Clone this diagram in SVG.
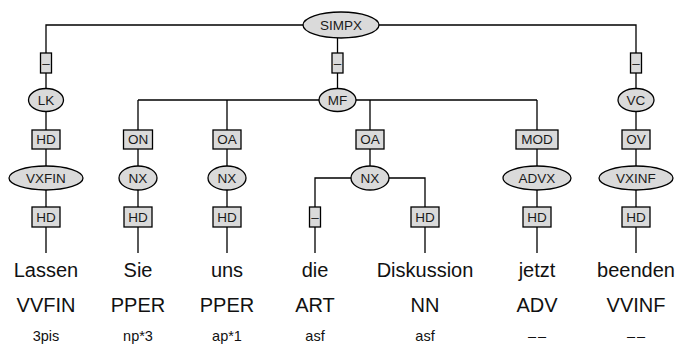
<svg xmlns="http://www.w3.org/2000/svg" width="680" height="349" viewBox="0 0 680 349">
<style>
.e{fill:#dadada;stroke:#000;stroke-width:1.3}
.b{fill:#dadada;stroke:#000;stroke-width:1.3}
.c{fill:none;stroke:#000;stroke-width:1.3}
.n{font-family:"Liberation Sans",Arial,sans-serif;font-size:13.5px;text-anchor:middle;fill:#1a1a1a}
.w{font-family:"Liberation Sans",Arial,sans-serif;font-size:20px;text-anchor:middle;fill:#111}
.m{font-family:"Liberation Sans",Arial,sans-serif;font-size:14.5px;text-anchor:middle;fill:#111}
.d{letter-spacing:2px}
</style>
<rect width="680" height="349" fill="#fff"/>
<g id="connectors" class="c">
<path d="M46 89V25H636V89"/>
<path d="M337.5 38V89"/>
<path d="M46 112V166M636 112V166"/>
<path d="M138 100H537"/>
<path d="M138 100V166M227 100V166M370 100V166M537 100V166"/>
<path d="M46 190V253M138 190V253M227 190V253M537 190V253M636 190V253"/>
<path d="M315 253V178H425V253"/>
</g>
<g id="edge-labels">
<g id="el-simpx-lk"><rect class="b" x="40.5" y="53" width="11" height="20"/><text class="n" x="46" y="67.5">–</text></g>
<g id="el-simpx-mf"><rect class="b" x="332" y="53" width="11" height="20"/><text class="n" x="337.5" y="67.5">–</text></g>
<g id="el-simpx-vc"><rect class="b" x="630.5" y="53" width="11" height="20"/><text class="n" x="636" y="67.5">–</text></g>
<g id="el-lk-vxfin"><rect class="b" x="32" y="130" width="28" height="19"/><text class="n" x="46" y="144.3">HD</text></g>
<g id="el-mf-nx1"><rect class="b" x="123.5" y="130" width="29" height="19"/><text class="n" x="138" y="144.3">ON</text></g>
<g id="el-mf-nx2"><rect class="b" x="213" y="130" width="28" height="19"/><text class="n" x="227" y="144.3">OA</text></g>
<g id="el-mf-nx3"><rect class="b" x="356" y="130" width="28" height="19"/><text class="n" x="370" y="144.3">OA</text></g>
<g id="el-mf-advx"><rect class="b" x="516" y="130" width="42" height="19"/><text class="n" x="537" y="144.3">MOD</text></g>
<g id="el-vc-vxinf"><rect class="b" x="622" y="130" width="28" height="19"/><text class="n" x="636" y="144.3">OV</text></g>
<g id="el-vxfin-w"><rect class="b" x="32" y="207" width="28" height="20"/><text class="n" x="46" y="221.8">HD</text></g>
<g id="el-nx1-w"><rect class="b" x="124" y="207" width="28" height="20"/><text class="n" x="138" y="221.8">HD</text></g>
<g id="el-nx2-w"><rect class="b" x="213" y="207" width="28" height="20"/><text class="n" x="227" y="221.8">HD</text></g>
<g id="el-nx3-die"><rect class="b" x="309.5" y="207" width="11" height="20"/><text class="n" x="315" y="221.5">–</text></g>
<g id="el-nx3-w"><rect class="b" x="411" y="207" width="28" height="20"/><text class="n" x="425" y="221.8">HD</text></g>
<g id="el-advx-w"><rect class="b" x="523" y="207" width="28" height="20"/><text class="n" x="537" y="221.8">HD</text></g>
<g id="el-vxinf-w"><rect class="b" x="622" y="207" width="28" height="20"/><text class="n" x="636" y="221.8">HD</text></g>
</g>
<g id="SIMPX"><ellipse class="e" cx="341" cy="25" rx="38" ry="13"/><text class="n" x="341" y="29.8">SIMPX</text></g>
<g id="LK"><ellipse class="e" cx="46" cy="100" rx="17.5" ry="11.5"/><text class="n" x="46" y="104.8">LK</text></g>
<g id="MF"><ellipse class="e" cx="337.5" cy="100" rx="18.5" ry="11.5"/><text class="n" x="337.5" y="104.8">MF</text></g>
<g id="VC"><ellipse class="e" cx="636" cy="100" rx="18" ry="11.5"/><text class="n" x="636" y="104.8">VC</text></g>
<g id="VXFIN"><ellipse class="e" cx="46" cy="178" rx="37" ry="12"/><text class="n" x="46" y="182.8">VXFIN</text></g>
<g id="NX1"><ellipse class="e" cx="138" cy="178" rx="19" ry="12"/><text class="n" x="138" y="182.8">NX</text></g>
<g id="NX2"><ellipse class="e" cx="227" cy="178" rx="19" ry="12"/><text class="n" x="227" y="182.8">NX</text></g>
<g id="NX3"><ellipse class="e" cx="370" cy="178" rx="19" ry="12"/><text class="n" x="370" y="182.8">NX</text></g>
<g id="ADVX"><ellipse class="e" cx="537" cy="178" rx="34" ry="12"/><text class="n" x="537" y="182.8">ADVX</text></g>
<g id="VXINF"><ellipse class="e" cx="636" cy="178" rx="37" ry="12"/><text class="n" x="636" y="182.8">VXINF</text></g>
<g id="t-Lassen"><text class="w" x="46" y="277">Lassen</text><text class="w" x="46" y="312">VVFIN</text><text class="m" x="46" y="341">3pis</text></g>
<g id="t-Sie"><text class="w" x="138" y="277">Sie</text><text class="w" x="138" y="312">PPER</text><text class="m" x="138" y="341">np*3</text></g>
<g id="t-uns"><text class="w" x="227" y="277">uns</text><text class="w" x="227" y="312">PPER</text><text class="m" x="227" y="341">ap*1</text></g>
<g id="t-die"><text class="w" x="315" y="277">die</text><text class="w" x="315" y="312">ART</text><text class="m" x="315" y="341">asf</text></g>
<g id="t-Diskussion"><text class="w" x="425" y="277">Diskussion</text><text class="w" x="425" y="312">NN</text><text class="m" x="425" y="341">asf</text></g>
<g id="t-jetzt"><text class="w" x="537" y="277">jetzt</text><text class="w" x="537" y="312">ADV</text><text class="m d" x="538" y="341">––</text></g>
<g id="t-beenden"><text class="w" x="636" y="277">beenden</text><text class="w" x="636" y="312">VVINF</text><text class="m d" x="637" y="341">––</text></g>
</svg>
